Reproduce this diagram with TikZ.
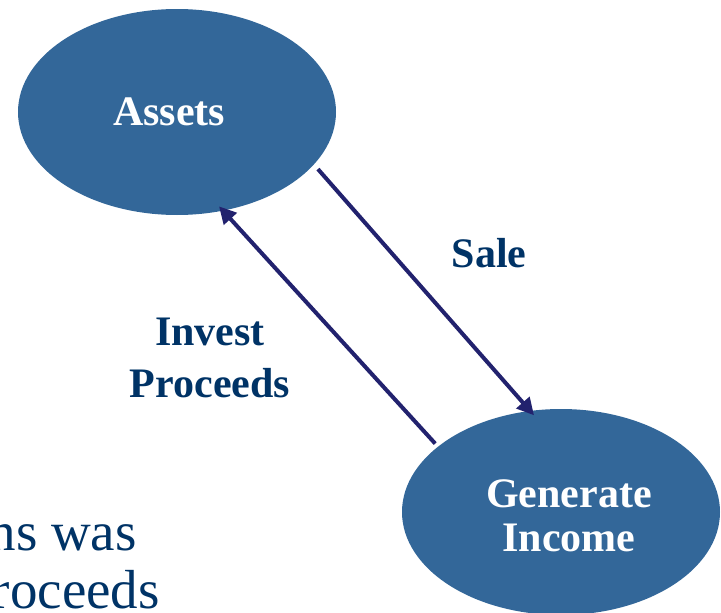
\documentclass[tikz,border=0pt]{standalone}
\usepackage{fontspec}
\setmainfont{Liberation Serif}
\usetikzlibrary{shapes.geometric,arrows.meta}

\definecolor{bubble}{RGB}{51,103,153}
\definecolor{flow}{RGB}{34,34,110}
\definecolor{caption}{RGB}{0,51,102}

\begin{document}
\begin{tikzpicture}[x=1pt,y=-1pt]
\tikzstyle{cycle}=[ellipse,fill=bubble,minimum width=318pt,minimum height=206pt,inner sep=0pt]
\tikzstyle{inside}=[text=white,font=\fontsize{42}{44}\selectfont\bfseries,align=center]
\tikzstyle{flowarrow}=[draw=flow,line width=4pt,-{Triangle[length=17pt,width=17pt]}]
\tikzstyle{tag}=[text=caption,font=\fontsize{42}{52}\selectfont\bfseries,align=center]
\tikzstyle{slide}=[text=caption,font=\fontsize{55}{58}\selectfont,inner sep=0pt]
\useasboundingbox (0,0) rectangle (721,613);
\clip (0,0) rectangle (721,613);
% slide text behind the figure
\node[slide,anchor=base east] (line1) at (137,550) {ns was};
\node[slide,anchor=base east] (line2) at (160,608) {roceeds};
% the two stages
\node[cycle,label={[inside,xshift=-8pt]center:Assets}] (assets) at (177,112) {};
\node[cycle,label={[inside,xshift=8pt,yshift=-4pt]center:{Generate\\Income}}] (income) at (561,512) {};
% the loop between them
\draw[flowarrow,shorten <=6pt,shorten >=-6pt] (assets.-21) -- (income.107);
\draw[flowarrow,shorten <=4pt,shorten >=-6pt] (income.152) -- (assets.-65);
\node[tag] (sale) at (489,253) {Sale};
\node[tag] (invest) at (210,358) {Invest\\Proceeds};
\end{tikzpicture}
\end{document}
